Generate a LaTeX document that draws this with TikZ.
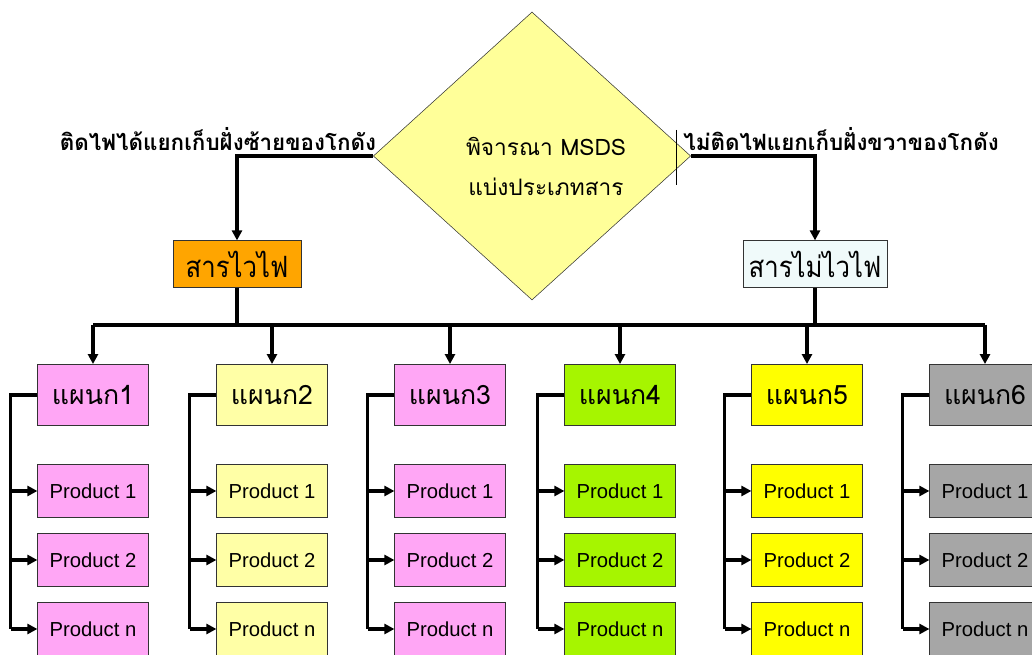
\documentclass[tikz,border=0pt]{standalone}
\usepackage{fontspec}
\setmainfont{Liberation Sans}
\newfontfamily\thaifont[Script=Thai]{Loma}
\newfontfamily\thainarrow[Script=Thai, FakeStretch=0.88]{Loma}
\usetikzlibrary{shapes.geometric, arrows.meta, positioning}
\definecolor{decide}{HTML}{FFFF99}
\definecolor{flame}{HTML}{FFA500}
\definecolor{noflame}{HTML}{F0FAFA}
\definecolor{deppink}{HTML}{FFA6F5}
\definecolor{deplemon}{HTML}{FFFFA6}
\definecolor{deplime}{HTML}{A6F500}
\definecolor{depyellow}{HTML}{FFFF00}
\definecolor{depgrey}{HTML}{A6A6A6}
\tikzset{
    catbox/.style={rectangle, draw=black!80, thin, minimum height=35pt, inner sep=2pt, font=\thainarrow\fontsize{22}{24}\selectfont},
    depbox/.style={rectangle, draw=black!80, thin, minimum width=83pt, minimum height=46pt, font=\thaifont\fontsize{20}{22}\selectfont},
    prodbox/.style={rectangle, draw=black!80, thin, minimum width=83pt, minimum height=40pt, font=\fontsize{15.2}{17}\selectfont},
    side/.style={font=\thaifont\bfseries\fontsize{16.8}{19}\selectfont},
    link/.style={line width=2.4pt, black},
    feed/.style={-{Triangle[length=7.5pt, width=7.5pt]}, line width=2.4pt, black},
}

\begin{document}
\begin{tikzpicture}[x=0.75pt, y=-0.75pt]
\useasboundingbox (0,0) rectangle (1032,655);

% Decision
\node[diamond, draw=black!80, fill=decide, minimum width=238pt, minimum height=216pt, inner sep=0pt] (msds) at (532,156) {};
\node[font=\thaifont\fontsize{17}{30}\selectfont, align=center] (msdstext) at (546,166) {พิจารณา MSDS\\แบ่งประเภทสาร};
\draw[thin] (676,130) -- (676,185);

% Branch labels
\node[side] (leftnote) at (218,139) {ติดไฟได้แยกเก็บฝั่งซ้ายของโกดัง};
\node[side] (rightnote) at (841,139) {ไม่ติดไฟแยกเก็บฝั่งขวาของโกดัง};

% Categories
\node[catbox, fill=flame, minimum width=96pt] (flammable) at (237,264) {สารไวไฟ};
\node[catbox, fill=noflame, minimum width=108pt] (nonflammable) at (815,264) {สารไม่ไวไฟ};

\draw[feed] (msds.west) -| (flammable.north);
\draw[feed] (msds.east) -| (nonflammable.north);

% Departments
\node[depbox, fill=deppink] (dep1) at (93,395) {แผนก1};
\node[depbox, fill=deplemon] (dep2) at (272,395) {แผนก2};
\node[depbox, fill=deppink] (dep3) at (450,395) {แผนก3};
\node[depbox, fill=deplime] (dep4) at (620,395) {แผนก4};
\node[depbox, fill=depyellow] (dep5) at (807,395) {แผนก5};
\node[depbox, fill=depgrey] (dep6) at (985,395) {แผนก6};

% Bus
\coordinate (bus) at (0,325);
\draw[link] (flammable.south) -- (flammable.south |- bus);
\draw[link] (nonflammable.south) -- (nonflammable.south |- bus);
\draw[link] (dep1.north |- bus) -- (dep6.north |- bus);
\draw[feed] (dep1.north |- bus) -- (dep1.north);
\draw[feed] (dep2.north |- bus) -- (dep2.north);
\draw[feed] (dep3.north |- bus) -- (dep3.north);
\draw[feed] (dep4.north |- bus) -- (dep4.north);
\draw[feed] (dep5.north |- bus) -- (dep5.north);
\draw[feed] (dep6.north |- bus) -- (dep6.north);

% Products
\node[prodbox, fill=deppink] (p11) at (93,491) {Product 1};
\node[prodbox, fill=deppink] (p12) at (93,560) {Product 2};
\node[prodbox, fill=deppink] (p1n) at (93,629) {Product n};
\node[prodbox, fill=deplemon] (p21) at (272,491) {Product 1};
\node[prodbox, fill=deplemon] (p22) at (272,560) {Product 2};
\node[prodbox, fill=deplemon] (p2n) at (272,629) {Product n};
\node[prodbox, fill=deppink] (p31) at (450,491) {Product 1};
\node[prodbox, fill=deppink] (p32) at (450,560) {Product 2};
\node[prodbox, fill=deppink] (p3n) at (450,629) {Product n};
\node[prodbox, fill=deplime] (p41) at (620,491) {Product 1};
\node[prodbox, fill=deplime] (p42) at (620,560) {Product 2};
\node[prodbox, fill=deplime] (p4n) at (620,629) {Product n};
\node[prodbox, fill=depyellow] (p51) at (807,491) {Product 1};
\node[prodbox, fill=depyellow] (p52) at (807,560) {Product 2};
\node[prodbox, fill=depyellow] (p5n) at (807,629) {Product n};
\node[prodbox, fill=depgrey] (p61) at (985,491) {Product 1};
\node[prodbox, fill=depgrey] (p62) at (985,560) {Product 2};
\node[prodbox, fill=depgrey] (p6n) at (985,629) {Product n};

% Side rails
\coordinate (rail1) at ([xshift=-20pt]dep1.west);
\coordinate (rail2) at ([xshift=-20pt]dep2.west);
\coordinate (rail3) at ([xshift=-20pt]dep3.west);
\coordinate (rail4) at ([xshift=-20pt]dep4.west);
\coordinate (rail5) at ([xshift=-20pt]dep5.west);
\coordinate (rail6) at ([xshift=-20pt]dep6.west);

\draw[link] (dep1.west) -- (rail1) -- (rail1 |- p1n.west);
\draw[feed] (rail1 |- p11.west) -- (p11.west);
\draw[feed] (rail1 |- p12.west) -- (p12.west);
\draw[feed] (rail1 |- p1n.west) -- (p1n.west);

\draw[link] (dep2.west) -- (rail2) -- (rail2 |- p2n.west);
\draw[feed] (rail2 |- p21.west) -- (p21.west);
\draw[feed] (rail2 |- p22.west) -- (p22.west);
\draw[feed] (rail2 |- p2n.west) -- (p2n.west);

\draw[link] (dep3.west) -- (rail3) -- (rail3 |- p3n.west);
\draw[feed] (rail3 |- p31.west) -- (p31.west);
\draw[feed] (rail3 |- p32.west) -- (p32.west);
\draw[feed] (rail3 |- p3n.west) -- (p3n.west);

\draw[link] (dep4.west) -- (rail4) -- (rail4 |- p4n.west);
\draw[feed] (rail4 |- p41.west) -- (p41.west);
\draw[feed] (rail4 |- p42.west) -- (p42.west);
\draw[feed] (rail4 |- p4n.west) -- (p4n.west);

\draw[link] (dep5.west) -- (rail5) -- (rail5 |- p5n.west);
\draw[feed] (rail5 |- p51.west) -- (p51.west);
\draw[feed] (rail5 |- p52.west) -- (p52.west);
\draw[feed] (rail5 |- p5n.west) -- (p5n.west);

\draw[link] (dep6.west) -- (rail6) -- (rail6 |- p6n.west);
\draw[feed] (rail6 |- p61.west) -- (p61.west);
\draw[feed] (rail6 |- p62.west) -- (p62.west);
\draw[feed] (rail6 |- p6n.west) -- (p6n.west);

\end{tikzpicture}
\end{document}
